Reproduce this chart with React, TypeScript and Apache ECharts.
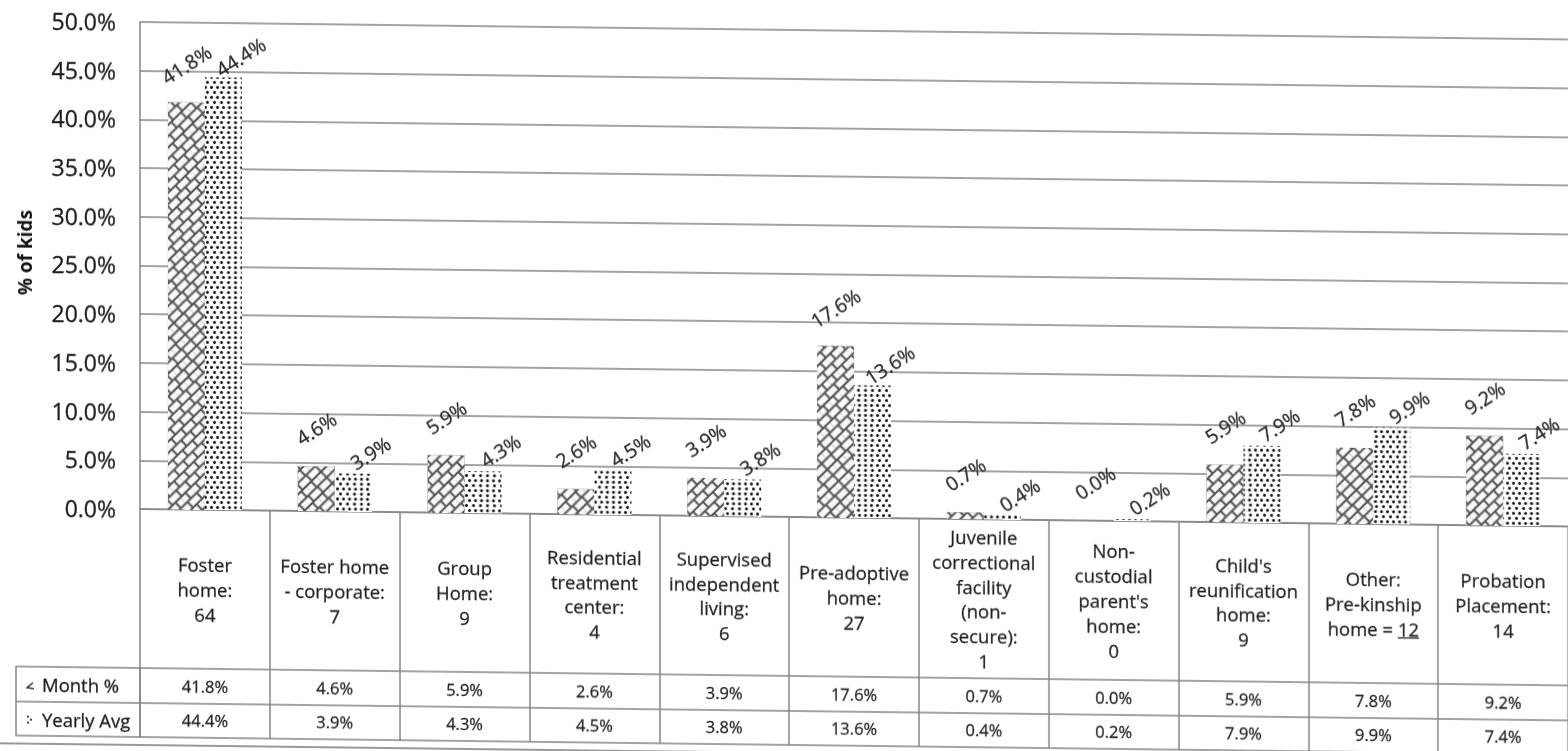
import React, { useEffect, useRef } from 'react';
import * as echarts from 'echarts';

const categories = [
  'Foster\nhome:\n64',
  'Foster home\n- corporate:\n7',
  'Group\nHome:\n9',
  'Residential\ntreatment\ncenter:\n4',
  'Supervised\nindependent\nliving:\n6',
  'Pre-adoptive\nhome:\n27',
  'Juvenile\ncorrectional\nfacility\n(non-\nsecure):\n1',
  "Non-\ncustodial\nparent's\nhome:\n0",
  "Child's\nreunification\nhome:\n9",
  'Other:\nPre-kinship\nhome = 12',
  'Probation\nPlacement:\n14',
];
const monthPct = [41.8, 4.6, 5.9, 2.6, 3.9, 17.6, 0.7, 0.0, 5.9, 7.8, 9.2];
const yearlyAvg = [44.4, 3.9, 4.3, 4.5, 3.8, 13.6, 0.4, 0.2, 7.9, 9.9, 7.4];
const seriesNames = ['Month %', 'Yearly Avg'];
const yMin = 0;
const yMax = 50;
const yStep = 5;
const yTitle = '% of kids';

const FONT = '"Open Sans", "Noto Sans", sans-serif';
const LINE = '#858585';
const TEXT = '#1e1e1e';
const HEAD_FS = 18.5;
const HEAD_LH = 25;

const pct = (v: number) => v.toFixed(1) + '%';

export default function App() {
  const ref = useRef<HTMLDivElement>(null);
  useEffect(() => {
    if (!ref.current) return;
    const chart = echarts.init(ref.current, null, { renderer: 'svg' });
    const labelBase = {
      show: true,
      position: 'top' as const,
      rotate: 33,
      align: 'center',
      verticalAlign: 'middle',
      fontFamily: FONT,
      fontSize: 19.5,
      color: '#2a2a2a',
      textBorderColor: '#2a2a2a',
      textBorderWidth: 0.3,
      formatter: (p: any) => pct(p.value),
    };
    const baseGraphic: any[] = [
      {
        type: 'text',
        x: 25,
        y: 254,
        rotation: Math.PI / 2,
        style: {
          text: yTitle,
          font: `bold 19px ${FONT}`,
          fill: '#111',
          align: 'center',
          verticalAlign: 'middle',
        },
      },
      {
        type: 'rect',
        shape: { x: 16, y: 668, width: 124, height: 69 },
        style: { fill: 'none', stroke: LINE, lineWidth: 1.5 },
      },
      {
        type: 'line',
        shape: { x1: 16, y1: 703, x2: 140, y2: 703 },
        style: { stroke: LINE, lineWidth: 1.5 },
      },
      {
        type: 'polyline',
        shape: { points: [[33, 684], [27, 689], [34, 690]] },
        style: { stroke: '#333', lineWidth: 1.5, fill: 'none' },
      },
      { type: 'circle', shape: { cx: 28, cy: 718, r: 1.1 }, style: { fill: '#333' } },
      { type: 'circle', shape: { cx: 31, cy: 721, r: 1.1 }, style: { fill: '#333' } },
      { type: 'circle', shape: { cx: 28, cy: 724, r: 1.1 }, style: { fill: '#333' } },
      {
        type: 'text',
        x: 42,
        y: 686,
        style: {
          text: seriesNames[0],
          font: `18.5px ${FONT}`,
          fill: TEXT,
          stroke: TEXT,
          lineWidth: 0.3,
          align: 'left',
          verticalAlign: 'middle',
        },
      },
      {
        type: 'text',
        x: 42,
        y: 721,
        style: {
          text: seriesNames[1],
          font: `18.5px ${FONT}`,
          fill: TEXT,
          stroke: TEXT,
          lineWidth: 0.3,
          align: 'left',
          verticalAlign: 'middle',
        },
      },
      {
        type: 'line',
        shape: { x1: 0, y1: 745, x2: 1568, y2: 745 },
        style: { stroke: '#999', lineWidth: 2 },
      },
    ];
    const option: any = {
      animation: false,
      backgroundColor: '#ffffff',
      grid: { left: 140, right: -10, top: 22, bottom: 242, containLabel: false },
      yAxis: {
        type: 'value',
        min: yMin,
        max: yMax,
        interval: yStep,
        axisLine: { show: true, lineStyle: { color: LINE, width: 1.5 } },
        axisTick: { show: false },
        splitLine: { show: true, lineStyle: { color: LINE, width: 1.5 } },
        axisLabel: {
          formatter: (v: number) => pct(v),
          fontFamily: FONT,
          fontSize: 23,
          color: TEXT,
          textBorderColor: TEXT,
          textBorderWidth: 0.3,
          margin: 24,
        },
      },
      xAxis: [
        {
          type: 'category',
          data: categories,
          position: 'bottom',
          axisLine: { show: true, lineStyle: { color: LINE, width: 1.5 } },
          axisTick: {
            show: true,
            length: 228,
            interval: 0,
            alignWithLabel: false,
            lineStyle: { color: LINE, width: 1.5 },
          },
          axisLabel: {
            interval: 0,
            fontFamily: FONT,
            fontSize: HEAD_FS,
            lineHeight: HEAD_LH,
            color: TEXT,
            textBorderColor: TEXT,
            textBorderWidth: 0.25,
            margin: 79.5,
            verticalAlign: 'middle',
            align: 'center',
          },
        },
        {
          type: 'category',
          data: monthPct.map(pct),
          position: 'bottom',
          offset: 159,
          axisLine: { show: true, lineStyle: { color: LINE, width: 1.5 } },
          axisTick: { show: false },
          axisLabel: {
            interval: 0,
            fontFamily: FONT,
            fontSize: 16.5,
            color: TEXT,
            textBorderColor: TEXT,
            textBorderWidth: 0.25,
            margin: 17.5,
            verticalAlign: 'middle',
          },
        },
        {
          type: 'category',
          data: yearlyAvg.map(pct),
          position: 'bottom',
          offset: 194,
          axisLine: { show: true, lineStyle: { color: LINE, width: 1.5 } },
          axisTick: { show: false },
          axisLabel: {
            interval: 0,
            fontFamily: FONT,
            fontSize: 16.5,
            color: TEXT,
            textBorderColor: TEXT,
            textBorderWidth: 0.25,
            margin: 17,
            verticalAlign: 'middle',
          },
        },
        {
          type: 'category',
          data: categories.map(() => ''),
          position: 'bottom',
          offset: 228,
          axisLine: { show: true, lineStyle: { color: LINE, width: 1.5 } },
          axisTick: { show: false },
          axisLabel: { show: false },
        },
      ],
      series: [
        {
          name: seriesNames[0],
          type: 'bar',
          xAxisIndex: 0,
          data: monthPct,
          barWidth: 37,
          barGap: '0%',
          itemStyle: {
            color: '#505050',
            decal: {
              symbol: 'rect',
              symbolSize: 1,
              color: '#f8f8f8',
              dashArrayX: [[11, 1.5], [5.5, 1.5, 5.5, 0]],
              dashArrayY: [5.5, 1.5],
              rotation: -Math.PI / 4,
            },
          },
          label: { ...labelBase, distance: 38, offset: [0, 0] },
        },
        {
          name: seriesNames[1],
          type: 'bar',
          xAxisIndex: 0,
          data: yearlyAvg,
          barWidth: 37,
          barGap: '0%',
          itemStyle: {
            color: '#ffffff',
            decal: {
              symbol: 'circle',
              symbolSize: 1,
              color: '#111111',
              dashArrayX: [[2.3, 2.5], [0, 2.4, 2.3, 0.1]],
              dashArrayY: [2.3, 1.4],
              rotation: 0,
            },
          },
          label: { ...labelBase, distance: 14.5, offset: [18, 4] },
        },
      ],
      graphic: baseGraphic,
    };
    chart.setOption(option);

    // underline under "12" in the "Other" header cell (text decoration)
    const idx = categories.findIndex((c) => c.endsWith('= 12'));
    if (idx >= 0) {
      const cx = chart.convertToPixel({ xAxisIndex: 0 }, idx) as number;
      const lines = categories[idx].split('\n');
      const last = lines[lines.length - 1];
      const gtr = (echarts as any).format && (echarts as any).format.getTextRect;
      const fullW = gtr ? gtr(last, `${HEAD_FS}px ${FONT}`).width : last.length * HEAD_FS * 0.55;
      const numW = gtr ? gtr('12', `${HEAD_FS}px ${FONT}`).width : 21;
      const x2 = cx + fullW / 2;
      const x1 = x2 - numW;
      const baseY = 509 + 79.5 + ((lines.length - 1) / 2) * HEAD_LH + 9;
      chart.setOption({
        graphic: [
          ...baseGraphic,
          {
            type: 'line',
            shape: { x1, y1: baseY, x2, y2: baseY },
            style: { stroke: TEXT, lineWidth: 1.3 },
          },
        ],
      });
    }
    return () => chart.dispose();
  }, []);
  return (
    <div
      ref={ref}
      style={{
        position: 'fixed',
        left: 0,
        top: 0,
        width: 1568,
        height: 751,
        background: '#fff',
        transform: 'skewY(0.7deg)',
        transformOrigin: '140px 509px',
      }}
    />
  );
}
